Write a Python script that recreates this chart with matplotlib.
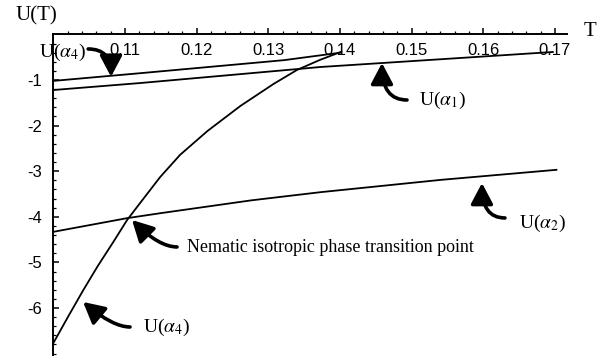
import matplotlib
matplotlib.use("Agg")
import matplotlib.pyplot as plt
import numpy as np

# data
T_a4_top = [0.100, 0.1122, 0.1322, 0.1401]
U_a4_top = [-1.02, -0.85, -0.565, -0.40]

T_a1 = [0.100, 0.1122, 0.1373, 0.1595, 0.1697]
U_a1 = [-1.22, -1.066, -0.715, -0.49, -0.386]

T_a2 = [0.100, 0.1103, 0.115, 0.1276, 0.1373, 0.1541, 0.1702]
U_a2 = [-4.33, -4.03, -3.92, -3.64, -3.46, -3.19, -2.97]

T_a4 = [0.100, 0.1021, 0.1041, 0.1062, 0.1083, 0.1103, 0.1121, 0.1149,
        0.1177, 0.1215, 0.1261, 0.1307, 0.1340, 0.1372, 0.1402]
U_a4 = [-6.77, -6.18, -5.63, -5.08, -4.57, -4.07, -3.70, -3.13,
        -2.64, -2.12, -1.57, -1.09, -0.78, -0.56, -0.38]

xtick_vals = [0.11, 0.12, 0.13, 0.14, 0.15, 0.16, 0.17]
xtick_labels = ["0.11", "0.12", "0.13", "0.14", "0.15", "0.16", "0.17"]
ytick_vals = [-1, -2, -3, -4, -5, -6]
ytick_labels = ["-1", "-2", "-3", "-4", "-5", "-6"]

plt.rcParams['mathtext.fontset'] = 'stix'
serif = 'Liberation Serif'
sans = 'Liberation Sans'

fig = plt.figure(figsize=(6.02, 3.56), dpi=100)
ax = fig.add_axes([0, 0, 1, 1])
ax.set_xlim(0.09256, 0.17656)
ax.set_ylim(-7.053, 0.754)

lw = 1.3
ax.plot(T_a4_top, U_a4_top, color='black', lw=lw)
ax.plot(T_a1, U_a1, color='black', lw=lw)
ax.plot(T_a2, U_a2, color='black', lw=lw)
ax.plot(T_a4, U_a4, color='black', lw=lw)

# mathematica style axes crossing at (0.1, 0)
ax.spines['top'].set_visible(False)
ax.spines['right'].set_visible(False)
ax.spines['left'].set_position(('data', 0.1))
ax.spines['bottom'].set_position(('data', 0))
ax.spines['left'].set_bounds(-7.053, 0)
ax.spines['bottom'].set_bounds(0.1, 0.1717)
for s in ['left', 'bottom']:
    ax.spines[s].set_linewidth(1.4)

ax.set_xticks(xtick_vals)
ax.set_xticklabels(xtick_labels, fontfamily=sans, fontsize=12)
ax.set_xticks(np.arange(0.102, 0.1701, 0.002), minor=True)
ax.set_yticks(ytick_vals)
ax.set_yticklabels(ytick_labels, fontfamily=sans, fontsize=12)
ax.set_yticks(np.arange(-7.0, 0.0, 0.2), minor=True)
ax.tick_params(axis='both', which='major', direction='in', length=4, width=1.1)
ax.tick_params(axis='both', which='minor', direction='in', length=2.5, width=0.9)
ax.tick_params(axis='x', which='major', pad=6)
ax.tick_params(axis='y', which='major', pad=8)

# axis titles
ax.text(0.09759, 0.41, "U(T)", fontfamily=serif, fontsize=15, ha='center', va='center')
ax.text(0.17486, 0.053, "T", fontfamily=serif, fontsize=15, ha='center', va='center')

# labels
lab = dict(fontfamily=serif, fontsize=14, ha='center', va='center')
ax.text(0.10128, -0.386, r"U($\alpha_4$)", **lab)
ax.text(0.15423, -1.439, r"U($\alpha_1$)", **lab)
ax.text(0.16819, -4.136, r"U($\alpha_2$)", **lab)
ax.text(0.11866, -4.68, "Nematic isotropic phase transition point", fontfamily=serif,
        fontsize=13, ha='left', va='center')
ax.text(0.1158, -6.417, r"U($\alpha_4$)", **lab)

arrow_style = dict(arrowstyle='-|>,head_length=0.85,head_width=0.45', color='black',
                   lw=2.6, mutation_scale=15, shrinkA=0, shrinkB=0)
# tail, tip, angle leaving tail, angle of line at tip
arrows = [
    ((0.10486, -0.32), (0.10805, -0.93), 0, 90),
    ((0.14935, -1.439), (0.14586, -0.627), 0, 90),
    ((0.16302, -4.026), (0.15981, -3.259), 0, 90),
    ((0.11726, -4.662), (0.11098, -4.07), 0, -45),
    ((0.1107, -6.417), (0.10415, -5.868), 0, -40),
]
for tail, tip, a, b in arrows:
    ax.annotate("", xy=tip, xytext=tail,
                arrowprops=dict(connectionstyle=f"angle3,angleA={a},angleB={b}", **arrow_style))

fig.savefig("out.png", dpi=100)
